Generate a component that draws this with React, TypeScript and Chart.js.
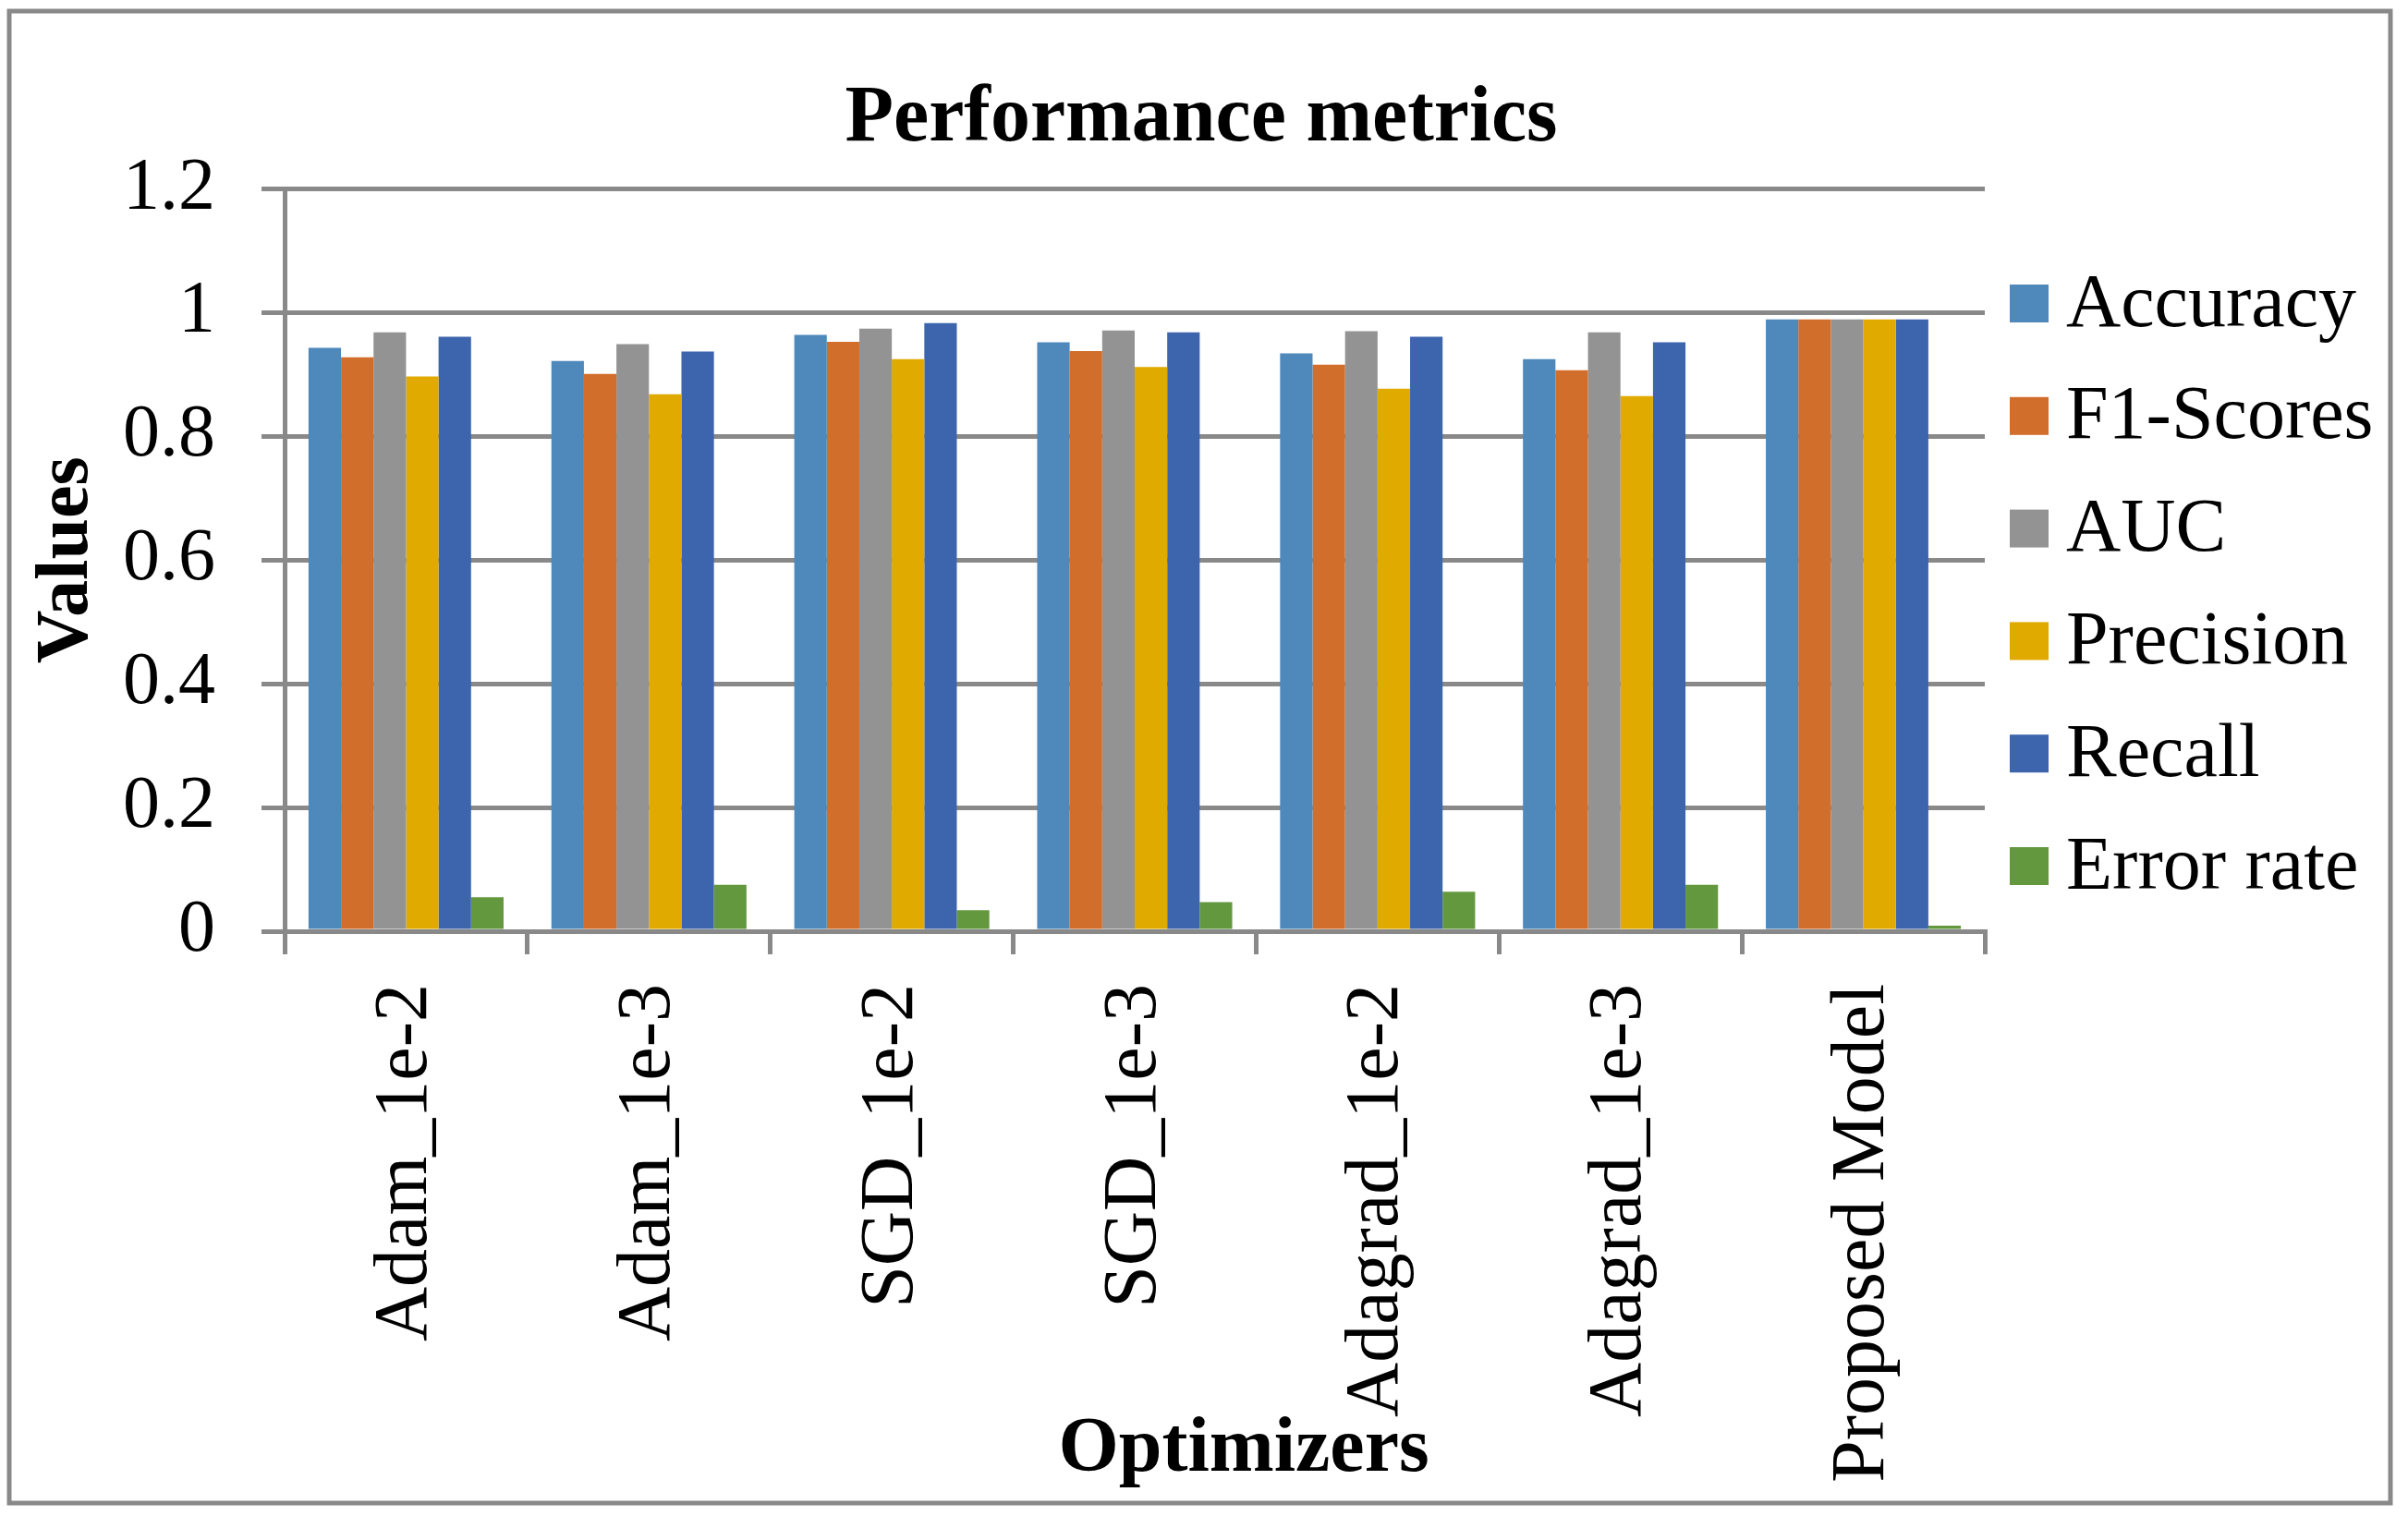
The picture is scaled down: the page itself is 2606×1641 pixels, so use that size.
import { useEffect, useRef } from "react";
import { Chart, registerables } from "chart.js";

Chart.register(...registerables);

const categories = [
  "Adam_1e-2",
  "Adam_1e-3",
  "SGD_1e-2",
  "SGD_1e-3",
  "Adagrad_1e-2",
  "Adagrad_1e-3",
  "Proposed Model",
];
const seriesNames = ["Accuracy", "F1-Scores", "AUC", "Precision", "Recall", "Error rate"];
const accuracy = [0.943, 0.922, 0.964, 0.952, 0.934, 0.925, 0.989];
const f1Scores = [0.928, 0.901, 0.953, 0.938, 0.916, 0.907, 0.989];
const auc = [0.968, 0.949, 0.974, 0.971, 0.97, 0.968, 0.989];
const precision = [0.897, 0.868, 0.925, 0.912, 0.877, 0.865, 0.989];
const recall = [0.961, 0.937, 0.983, 0.968, 0.961, 0.952, 0.989];
const errorRate = [0.055, 0.075, 0.034, 0.047, 0.064, 0.075, 0.009];
const seriesColors = ["#4F89BC", "#D26E2C", "#939393", "#E0AA00", "#3D65AD", "#63983F"];
const yTickLabels = ["0", "0.2", "0.4", "0.6", "0.8", "1", "1.2"];

const chartTitle = "Performance metrics";
const xTitle = "Optimizers";
const yTitle = "Values";

const SERIF = "'Liberation Serif', 'Times New Roman', serif";
const GRID = "#898989";
const W = 2606;
const H = 1641;

export default function App() {
  const ref = useRef<HTMLCanvasElement | null>(null);

  useEffect(() => {
    if (!ref.current) return;
    const series = [accuracy, f1Scores, auc, precision, recall, errorRate];

    const framePlugin = {
      id: "frame",
      beforeDraw(chart: any) {
        const ctx = chart.ctx;
        ctx.save();
        ctx.fillStyle = "#ffffff";
        ctx.fillRect(0, 0, W, H);
        ctx.restore();
      },
      afterDraw(chart: any) {
        const ctx = chart.ctx;
        ctx.save();
        ctx.strokeStyle = GRID;
        ctx.lineWidth = 5;
        ctx.strokeRect(10, 12, 2577, 1615);
        ctx.fillStyle = "#000";
        ctx.textBaseline = "middle";
        ctx.textAlign = "center";
        // chart title
        ctx.font = `bold 86px ${SERIF}`;
        ctx.fillText(chartTitle, 1300, 130);
        // x axis title
        ctx.font = `bold 84px ${SERIF}`;
        ctx.fillText(xTitle, 1346, 1570);
        // legend
        const ds = chart.data.datasets;
        ctx.font = `82px ${SERIF}`;
        ctx.textAlign = "left";
        for (let i = 0; i < ds.length; i++) {
          const cy = 329 + i * 121.8;
          ctx.fillStyle = ds[i].backgroundColor;
          ctx.fillRect(2175, cy - 21, 42, 41);
          ctx.fillStyle = "#000";
          ctx.fillText(ds[i].label, 2236, cy + 2);
        }
        ctx.restore();
      },
    };

    const chart = new Chart(ref.current, {
      type: "bar",
      data: {
        labels: categories,
        datasets: seriesNames.map((name, i) => ({
          label: name,
          data: series[i],
          backgroundColor: seriesColors[i],
          borderWidth: 0,
          categoryPercentage: 0.803,
          barPercentage: 1.0,
        })),
      },
      options: {
        responsive: false,
        animation: false,
        devicePixelRatio: 1,
        layout: { padding: { top: 204.5, left: 0, right: 458, bottom: 0 } },
        plugins: {
          legend: { display: false },
          tooltip: { enabled: false },
          title: { display: false },
        },
        scales: {
          x: {
            afterFit: (scale: any) => {
              scale.height = 633;
            },
            grid: {
              display: true,
              offset: true,
              drawOnChartArea: false,
              drawTicks: true,
              tickLength: 25,
              color: GRID,
              lineWidth: 5,
            },
            border: { display: true, color: GRID, width: 5 },
            ticks: {
              autoSkip: false,
              minRotation: 90,
              maxRotation: 90,
              padding: 32,
              color: "#000",
              font: { family: SERIF, size: 82 },
            },
          },
          y: {
            min: 0,
            max: 1.2,
            afterFit: (scale: any) => {
              scale.width = 308;
            },
            grid: {
              display: true,
              drawOnChartArea: true,
              drawTicks: true,
              tickLength: 25,
              color: GRID,
              lineWidth: 5,
            },
            border: { display: true, color: GRID, width: 5 },
            ticks: {
              stepSize: 0.2,
              padding: 50,
              color: "#000",
              font: { family: SERIF, size: 80 },
              callback: (v: any) => {
                const idx = Math.round(Number(v) / 0.2);
                return yTickLabels[idx] ?? String(v);
              },
            },
            title: {
              display: true,
              text: yTitle,
              color: "#000",
              font: { family: SERIF, size: 80, weight: "bold" },
              padding: { top: 25, bottom: 0 },
            },
          },
        },
      },
      plugins: [framePlugin],
    } as any);

    return () => chart.destroy();
  }, []);

  return (
    <div style={{ position: "absolute", left: 0, top: 0, width: W, height: H, background: "#fff" }}>
      <canvas ref={ref} width={W} height={H} style={{ display: "block", width: W, height: H }} />
    </div>
  );
}
